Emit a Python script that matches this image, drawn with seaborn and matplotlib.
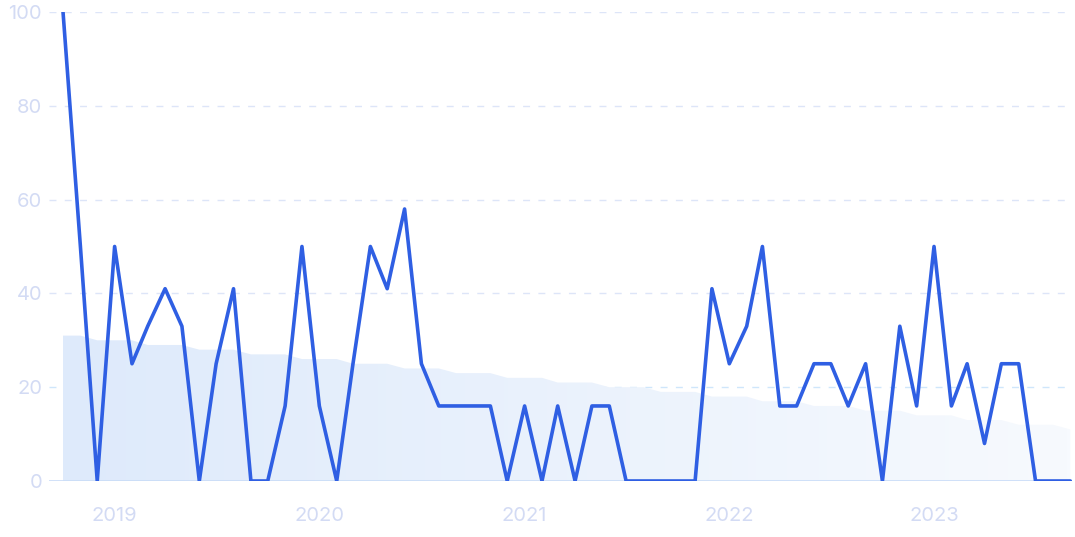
import numpy as np
import pandas as pd
import matplotlib
matplotlib.use('Agg')
import matplotlib.pyplot as plt
import matplotlib.dates as mdates
from matplotlib.colors import LinearSegmentedColormap
import seaborn as sns

# Monthly values, Oct 2018 - Sep 2023
months = pd.date_range('2018-10-01', '2023-09-01', freq='MS')
interest = [100, 50, 0,
            50, 25, 33, 41, 33, 0, 25, 41, 0, 0, 16, 50,
            16, 0, 25, 50, 41, 58, 25, 16, 16, 16, 16, 0,
            16, 0, 16, 0, 16, 16, 0, 0, 0, 0, 0, 41,
            25, 33, 50, 16, 16, 25, 25, 16, 25, 0, 33, 16,
            50, 16, 25, 8, 25, 25, 0, 0, 0]
trend = [31, 31, 30,
         30, 30, 29, 29, 29, 28, 28, 28, 27, 27, 27, 26,
         26, 26, 25, 25, 25, 24, 24, 24, 23, 23, 23, 22,
         22, 22, 21, 21, 21, 20, 20, 20, 19, 19, 19, 18,
         18, 18, 17, 17, 17, 16, 16, 16, 15, 15, 15, 14,
         14, 14, 13, 13, 13, 12, 12, 12, 11]
year_ticks = ['2019', '2020', '2021', '2022', '2023']
y_ticks = [0, 20, 40, 60, 80, 100]

df = pd.DataFrame({'month': months, 'interest': interest, 'trend': trend})

sns.set_style('white')
plt.rcParams['font.family'] = ['Inter', 'DejaVu Sans']

fig = plt.figure(figsize=(10.75, 5.37), dpi=100)
ax = fig.add_axes([49 / 1075, 1 - 481 / 537, (1072 - 49) / 1075, 469 / 537])

# gradient-filled trend area
poly = ax.fill_between(df['month'], 0, df['trend'], color='none', lw=0)
cmap = LinearSegmentedColormap.from_list('fade', ['#deeafb', '#f7fafe'])
x0 = mdates.date2num(months[0])
x1 = mdates.date2num(months[-1])
grad = np.linspace(0, 1, 256).reshape(1, -1)
img = ax.imshow(grad, cmap=cmap, aspect='auto', extent=[x0, x1, 0, 32],
                origin='lower', zorder=1)
img.set_clip_path(poly.get_paths()[0], transform=ax.transData)

sns.lineplot(data=df, x='month', y='interest', ax=ax, color='#2f5fe3',
             lw=2.6, zorder=3)

ax.set_ylim(0, 100)
ax.set_xlim(months[0] - pd.Timedelta(days=25), months[-1] + pd.Timedelta(days=3))
ax.set_yticks(y_ticks)
ax.set_xticks([pd.Timestamp(f'{y}-01-01') for y in year_ticks])
ax.set_xticklabels(year_ticks)

for v in y_ticks[1:]:
    ax.axhline(v, color='#dde5f8' if v != 20 else '#cfe6fb', lw=1,
               ls=(0, (5, 6)), zorder=0)
ax.axhline(0, color='#c9dcf7', lw=1.2, zorder=2)

for s in ax.spines.values():
    s.set_visible(False)
ax.tick_params(axis='both', length=0, labelsize=14.5, colors='#d3dbf4')
ax.tick_params(axis='x', pad=19)
ax.tick_params(axis='y', pad=5)
ax.set_xlabel('')
ax.set_ylabel('')

plt.savefig('out.png', dpi=100)
